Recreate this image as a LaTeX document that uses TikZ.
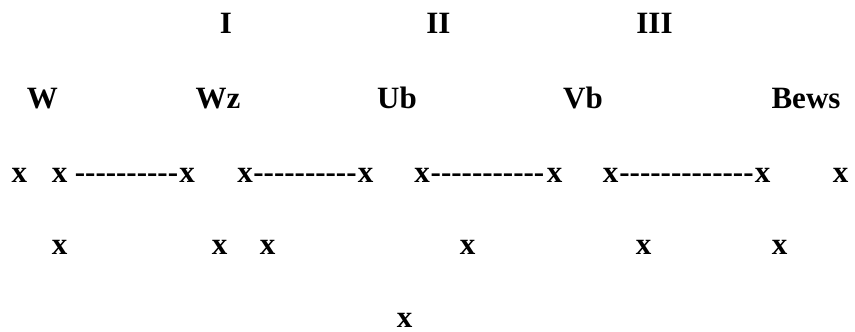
\documentclass[tikz,border=0pt]{standalone}
\usepackage{fontspec}
\setmainfont{Liberation Serif}
\newcommand\hy{\char"2D\relax}
\begin{document}
\begin{tikzpicture}[x=1pt,y=-1pt,
  txt/.style={anchor=base, inner sep=0pt, outer sep=0pt, font=\fontsize{31}{31}\selectfont\bfseries}]
\useasboundingbox (0,0) rectangle (855,332);
% roman numerals
\node[txt] (nI)   at (226,34) {I};
\node[txt] (nII)  at (438.5,34) {II};
\node[txt] (nIII) at (654.5,34) {III};
% labels
\node[txt] (lW)    at (42.5,108) {W};
\node[txt] (lWz)   at (218,108) {Wz};
\node[txt] (lUb)   at (397,108) {Ub};
\node[txt] (lVb)   at (583,108) {Vb};
\node[txt] (lBews) at (806,108) {Bews};
% row 3
\node[txt] (a1)  at (19.5,182) {x};
\node[txt] (a2)  at (59.5,182) {x};
\node[txt] (d1)  at (126.5,182) {\hy\hy\hy\hy\hy\hy\hy\hy\hy\hy};
\node[txt] (a3)  at (187,182) {x};
\node[txt] (a4)  at (245,182) {x};
\node[txt] (d2)  at (305,182) {\hy\hy\hy\hy\hy\hy\hy\hy\hy\hy};
\node[txt] (a5)  at (365.5,182) {x};
\node[txt] (a6)  at (422,182) {x};
\node[txt] (d3)  at (487.5,182) {\hy\hy\hy\hy\hy\hy\hy\hy\hy\hy\hy};
\node[txt] (a7)  at (554.5,182) {x};
\node[txt] (a8)  at (610.5,182) {x};
\node[txt] (d4)  at (686.5,182) {\hy\hy\hy\hy\hy\hy\hy\hy\hy\hy\hy\hy\hy};
\node[txt] (a9)  at (762.5,182) {x};
\node[txt] (a10) at (840.5,182) {x};
% row 4
\node[txt] (b1) at (59.5,254) {x};
\node[txt] (b2) at (219.5,254) {x};
\node[txt] (b3) at (267.5,254) {x};
\node[txt] (b4) at (467.5,254) {x};
\node[txt] (b5) at (643.5,254) {x};
\node[txt] (b6) at (779.5,254) {x};
% row 5
\node[txt] (c1) at (404.5,327) {x};
\end{tikzpicture}
\end{document}
